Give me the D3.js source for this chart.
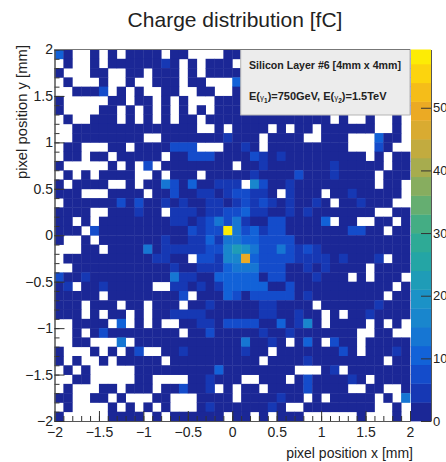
<!DOCTYPE html>
<html lang="en">
<head>
  <meta charset="UTF-8">
  <title>charge distribution</title>
  <script src="https://cdn.jsdelivr.net/npm/d3@7"></script>
  <style>
    html, body { margin: 0; padding: 0; background: #fff; overflow: hidden; }
    text { font-family: "Liberation Sans", Arial, sans-serif; fill: #222; }
    .axis path { stroke: #555; }
    .axis line { stroke: #333; }
  </style>
</head>
<body>
<script>
// one string per row, top row first, groups of ten bins
// '.' is an empty bin, otherwise the contour band (base 36, 3 fC wide)
let binRows = [
  '30..0.0.00 00.00....0 0000000000 0000000000',
  '.0..0.0000 0010.0.000 .000000000 0000000000',
  '0...00..00 .000.0.000 0000000000 0000000000',
  '.0...0..0. .000.00... 3000000000 0000000000',
  '..0002.0.0 ..00..00.. 0000000000 0000000000',
  '0.....00.0 0.0.0...00 0000000000 0000000000',
  '0....00.0. 0.0.0.0.00 0000000000 0000000000',
  '.0..000.0. 0.0.00.000 0000000000 0.0..0..0.',
  '..00000000 000000..0. 0000.0.00. 000000..0.',
  '..00000000 ..00000001 000.0000.. 000...300.',
  '.00...00.0 000222...0 010.000000 000...20..',
  '.00.00.000 00.0022200 0021010000 00000.0.00',
  '0.....0.0. 2.00000000 .001000000 0100000.00',
  '.0.0.0000. .0.000.000 0010000200 010000.000',
  '0.0000..0. 0042030011 1.52001000 000000.00.',
  '000...0000 .002001101 22110.1000 .00100000.',
  '.000000202 0010100110 1212101001 0.00100 0..',
  '0000..0001 00.1110112 2311001010 000000..00',
  '00.0.00000 0001101242 4100220000 3.00..00.0',
  '000.200000 000002122j 4231220000 0002200.00',
  '0..0.00000 0010011314 4332222000 0000000000',
  '...00.0000 4011111225 7642242121 0000000000',
  '.000000000 01100.2215 5g32222111 1010001.00',
  '..00000000 0001001113 4442220010 10000.0000',
  '2001000000 0004110033 3330220001 000.0.000.',
  '01.0010000 0..1101013 3333002000 00000000.0',
  '00000.0000 00002.0003 2022222010 0000000.00',
  '000.000.00 .000.00100 000110000. 0000001000',
  '000.0.00.0 .001111000 0001100100 .0.0010000',
  '..0000.3.0 .0..001102 2220030150 .0000.0.0.',
  '..0.020000 0000.00200 0001001000 0000..00..',
  '..00...4.0 0000000000 040010.030 .200.00000',
  '0...0.0.02 ..00100000 0100.00000 0020.00010',
  '0.0..0.000 00.0000000 000.000010 0000000.00',
  '.0.0.....0 0000000030 0000000... 01.0000000',
  '..00.....0 0....00100 0..000.020 00010.0000',
  '.0...00.00 0.002001.0 .00.000020 000..00..0',
  '00..00.0.. .00...0000 .0000100.0 .00000.0.4',
  '.0....0.0. 0.0...0100 000010..00 000000..0.',
  '0.....0000 .0.000000. 00.0.000.. ....0...0.'
];
let bandWidth = 3;
let bandCount = 20;
let xTicks = [-2, -1.5, -1, -0.5, 0, 0.5, 1, 1.5, 2];
let yTicks = [-2, -1.5, -1, -0.5, 0, 0.5, 1, 1.5, 2];
let zTicks = [0, 10, 20, 30, 40, 50];
let zStops = [0, 1.5, 4.5, 7.5, 10.5, 15, 20, 25, 30, 35, 40, 45, 50, 55, 60];
let zColors = ['#1b2593', '#1b2796', '#1638b4', '#144ccb', '#1262d8', '#1880d0', '#1b94c6', '#22a4a8', '#33ac8e',
  '#6bae6e', '#a2ac50', '#d0ab38', '#eeaa22', '#fcd010', '#fdf800'];
let titleText = 'Charge distribution [fC]';
let xTitle = 'pixel position x [mm]';
let yTitle = 'pixel position y [mm]';

let width = 446;
let height = 462;
let left = 54.5, right = 410, top_ = 49.5, bottom = 421;
let barLeft = 411, barRight = 431;

let svg = d3.select('body')
  .append('svg')
  .attr('width', width)
  .attr('height', height);

let x = d3.scaleLinear().domain([-2, 2]).range([left, right]);
let y = d3.scaleLinear().domain([-2, 2]).range([bottom, top_]);
let z = d3.scaleLinear().domain([0, 59.3]).range([bottom, top_]);
let color = d3.scaleLinear().domain(zStops).range(zColors);

let binSize = 0.1;
let bins = [];
binRows.forEach(function (row, r) {
  Array.from(row.replace(/ /g, '')).forEach(function (ch, c) {
    if (ch === '.') return;
    bins.push({
      x: -2 + c * binSize,
      y: 2 - r * binSize,
      value: (parseInt(ch, 36) + 0.5) * bandWidth
    });
  });
});

svg.append('g')
  .selectAll('rect')
  .data(bins)
  .join('rect')
  .attr('x', d => x(d.x))
  .attr('y', d => y(d.y))
  .attr('width', d => x(d.x + binSize) - x(d.x) + 0.4)
  .attr('height', d => y(d.y - binSize) - y(d.y) + 0.4)
  .attr('fill', d => color(d.value));

// legend box sits on top of the bins
svg.append('rect')
  .attr('x', 240.7).attr('y', top_)
  .attr('width', right - 240.7).attr('height', 65.5)
  .attr('fill', '#ececec')
  .attr('stroke', '#b5b5b5');

svg.append('text')
  .attr('x', 249).attr('y', 69)
  .attr('font-size', 10.6).attr('font-weight', 'bold')
  .text('Silicon Layer #6 [4mm x 4mm]');

let energy = svg.append('text')
  .attr('x', 249).attr('y', 100)
  .attr('font-size', 11).attr('font-weight', 'bold');
energy.append('tspan').text('E(');
energy.append('tspan').attr('font-size', 8).attr('font-weight', 'normal').text('γ');
energy.append('tspan').attr('font-size', 6.5).attr('dy', 3).text('1');
energy.append('tspan').attr('dy', -3).text(')=750GeV, E(');
energy.append('tspan').attr('font-size', 8).attr('font-weight', 'normal').text('γ');
energy.append('tspan').attr('font-size', 6.5).attr('dy', 3).text('2');
energy.append('tspan').attr('dy', -3).text(')=1.5TeV');

// colour bar
let bands = d3.range(bandCount);
svg.append('g')
  .selectAll('rect')
  .data(bands)
  .join('rect')
  .attr('x', barLeft)
  .attr('y', d => Math.max(z((d + 1) * bandWidth), top_))
  .attr('width', barRight - barLeft)
  .attr('height', d => z(d * bandWidth) - Math.max(z((d + 1) * bandWidth), top_) + 0.4)
  .attr('fill', d => color((d + 0.5) * bandWidth));

function fmt(d) {
  return String(d).replace('-', '\u2212');
}

function renderAxis(axis, tx, ty, size) {
  let g = svg.append('g')
    .attr('class', 'axis')
    .attr('transform', 'translate(' + tx + ',' + ty + ')')
    .call(axis);
  g.selectAll('text').attr('font-size', size);
  g.attr('font-family', null).attr('font-size', null);
  return g;
}

let minorValues = d3.range(-20, 21).map(d => d / 10);

renderAxis(d3.axisBottom(x).tickValues(minorValues).tickSizeInner(-5).tickSizeOuter(0).tickFormat(''), 0, bottom, 14);
renderAxis(d3.axisLeft(y).tickValues(minorValues).tickSizeInner(-5).tickSizeOuter(0).tickFormat(''), left, 0, 14);
renderAxis(d3.axisBottom(x).tickValues(xTicks).tickSizeInner(-10).tickSizeOuter(0).tickPadding(6).tickFormat(fmt), 0, bottom, 14);
renderAxis(d3.axisLeft(y).tickValues(yTicks).tickSizeInner(-10).tickSizeOuter(0).tickPadding(1.5).tickFormat(fmt), left, 0, 14);
renderAxis(d3.axisRight(z).tickValues(zTicks).tickSizeInner(-10).tickSizeOuter(0).tickPadding(2).tickFormat(fmt), barRight, 0, 13);

// top frame of the pad, left of the legend box
svg.append('line')
  .attr('x1', left).attr('x2', right)
  .attr('y1', top_).attr('y2', top_)
  .attr('stroke', '#777');

svg.append('text')
  .attr('x', 235).attr('y', 27)
  .attr('text-anchor', 'middle')
  .attr('font-size', 21)
  .text(titleText);

svg.append('text')
  .attr('x', 413).attr('y', 458)
  .attr('text-anchor', 'end')
  .attr('font-size', 14)
  .text(xTitle);

svg.append('text')
  .attr('transform', 'translate(27,45) rotate(-90)')
  .attr('text-anchor', 'end')
  .attr('font-size', 14.8)
  .text(yTitle);
</script>
</body>
</html>
